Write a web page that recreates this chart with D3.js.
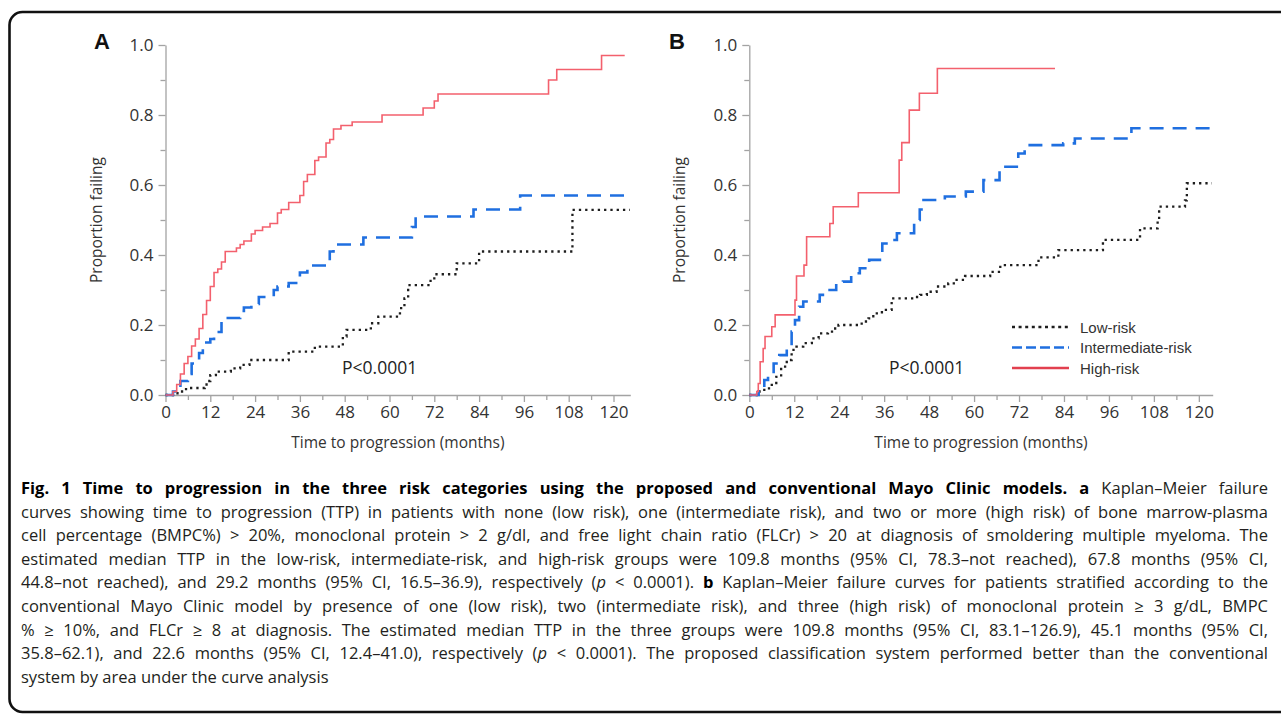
<!DOCTYPE html>
<html>
<head>
<meta charset="utf-8">
<script src="https://cdn.jsdelivr.net/npm/d3@7"></script>
<style>
  body { margin: 0; background: #fff; }
  svg { display: block; }
  .axis .domain, .axis line { stroke: #a3a3a3; stroke-width: 1.3; }
  .axis text { fill: #333; font-family: "Open Sans", sans-serif; font-size: 17px; }
</style>
</head>
<body>
<svg id="fig" width="1281" height="717"></svg>
<script>
const width = 1281, height = 717;

// tick values
const monthTicks = [0, 12, 24, 36, 48, 60, 72, 84, 96, 108, 120];
const monthMinor = [6, 18, 30, 42, 54, 66, 78, 90, 102, 114];
const propTicks = [0, 0.2, 0.4, 0.6, 0.8, 1.0];
const propMinor = [0.1, 0.3, 0.5, 0.7, 0.9];
const groups = ["Low-risk", "Intermediate-risk", "High-risk"];

// panel A : [month, proportion failing] step points
const aLow = [[0,0],[2,0.005],[4,0.01],[5.5,0.02],[10.5,0.03],[11,0.04],[12,0.057],[13.5,0.067],[17.5,0.076],[20,0.086],
  [22.5,0.1],[33,0.124],[40,0.138],[47.5,0.167],[48.5,0.186],[55,0.205],[57,0.224],[62.8,0.248],[64,0.276],[65,0.314],
  [71,0.33],[72,0.345],[78,0.376],[84,0.41],[109,0.529],[124.4,0.529]];
const aMid = [[0,0],[2,0.01],[3,0.02],[4,0.04],[6,0.06],[7,0.09],[9,0.12],[10,0.15],[12,0.16],[13,0.18],[15,0.21],
  [16,0.22],[20,0.24],[21,0.25],[23,0.26],[25,0.28],[29,0.3],[30,0.31],[33,0.32],[35,0.33],[36,0.35],[38,0.37],
  [44,0.41],[45,0.43],[53,0.45],[66,0.48],[67,0.51],[82.5,0.53],[95,0.57],[124,0.57]];
const aHigh = [[0,0],[2,0.01],[3,0.03],[4,0.06],[5,0.09],[6,0.11],[7,0.14],[8,0.16],[9,0.19],[10,0.23],[11,0.27],
  [12,0.31],[13,0.35],[14,0.36],[15,0.38],[16,0.41],[19,0.42],[20,0.43],[21,0.44],[23,0.46],[24,0.47],[26,0.48],
  [28,0.49],[30,0.52],[31,0.53],[33,0.55],[36,0.57],[37,0.61],[38,0.63],[40,0.67],[41,0.68],[43,0.72],[44,0.73],
  [45,0.76],[47,0.77],[50,0.78],[58,0.8],[69,0.82],[72,0.84],[73,0.86],[102.6,0.9],[104.8,0.93],[116.8,0.97],[123,0.97]];

// panel B
const bLow = [[0,0],[2.5,0.01],[4,0.019],[6,0.029],[7.2,0.052],[8.5,0.081],[10,0.1],[11.3,0.129],[12.6,0.138],
  [14.4,0.148],[16.7,0.162],[18.5,0.176],[21,0.181],[22.4,0.19],[23.8,0.2],[30,0.21],[31.8,0.219],[33.1,0.233],
  [35.4,0.243],[38,0.276],[44,0.28],[45.6,0.286],[47.4,0.295],[50,0.31],[53.1,0.319],[55,0.329],[57.6,0.34],
  [64.3,0.352],[67,0.371],[77.2,0.393],[82.5,0.414],[94.4,0.443],[104.3,0.476],[109,0.5],[109.4,0.538],
  [116.3,0.556],[116.8,0.605],[123.5,0.605]];
const bMid = [[0,0],[2.5,0.01],[4,0.043],[5,0.057],[6.5,0.09],[8,0.114],[10,0.138],[11.3,0.181],[12.2,0.214],
  [13.3,0.252],[14.4,0.267],[18.8,0.286],[20.7,0.3],[23.2,0.319],[25,0.324],[27.2,0.348],[29.5,0.362],[32,0.386],
  [35.5,0.433],[37.5,0.443],[39.4,0.462],[44,0.5],[45.5,0.53],[46.5,0.557],[52.2,0.567],[57.8,0.581],[62.5,0.614],
  [66.8,0.652],[71.8,0.69],[73.5,0.714],[83.8,0.719],[86.9,0.733],[102,0.762],[123.5,0.762]];
const bHigh = [[0,0],[2,0.01],[2.4,0.033],[2.9,0.095],[3.7,0.133],[4.2,0.167],[6,0.195],[6.9,0.229],[12.2,0.271],
  [12.6,0.34],[14.6,0.371],[15.3,0.452],[21.5,0.49],[22.4,0.538],[29.1,0.578],[40,0.671],[40.7,0.721],[42.7,0.814],
  [45.4,0.862],[50.2,0.933],[81.6,0.933]];

// caption, one entry per printed line (** bold **, _italic_)
const captionLines = [
  "**Fig. 1 Time to progression in the three risk categories using the proposed and conventional Mayo Clinic models. a** Kaplan–Meier failure",
  "curves showing time to progression (TTP) in patients with none (low risk), one (intermediate risk), and two or more (high risk) of bone marrow-plasma",
  "cell percentage (BMPC%) > 20%, monoclonal protein > 2 g/dl, and free light chain ratio (FLCr) > 20 at diagnosis of smoldering multiple myeloma. The",
  "estimated median TTP in the low-risk, intermediate-risk, and high-risk groups were 109.8 months (95% CI, 78.3–not reached), 67.8 months (95% CI,",
  "44.8–not reached), and 29.2 months (95% CI, 16.5–36.9), respectively (_p_ < 0.0001). **b** Kaplan–Meier failure curves for patients stratified according to the",
  "conventional Mayo Clinic model by presence of one (low risk), two (intermediate risk), and three (high risk) of monoclonal protein ≥ 3 g/dL, BMPC",
  "% ≥ 10%, and FLCr ≥ 8 at diagnosis. The estimated median TTP in the three groups were 109.8 months (95% CI, 83.1–126.9), 45.1 months (95% CI,",
  "35.8–62.1), and 22.6 months (95% CI, 12.4–41.0), respectively (_p_ < 0.0001). The proposed classification system performed better than the conventional",
  "system by area under the curve analysis"
];

const svg = d3.select("#fig");
svg.append("rect").attr("width", width).attr("height", height).attr("fill", "#fff");

// outer rounded frame (runs off the right edge)
svg.append("rect").attr("x", 9.5).attr("y", 12).attr("width", 1300).attr("height", 700)
  .attr("rx", 13).attr("fill", "none").attr("stroke", "#111").attr("stroke-width", 2.6);

const styles = [
  { color: "#1e1e1e", w: 2.3, dash: "2.3,4", legendDash: "3,3.6", legendW: 2.3 },
  { color: "#1f6fe0", w: 2.6, dash: "14,9", legendDash: "10,4", legendW: 2.6 },
  { color: "#f3606d", w: 1.6, dash: null, legendDash: null, legendW: 2.6, legendColor: "#e2404f" }
];

const y = d3.scaleLinear().domain([0, 1]).range([395, 45]);

function drawPanel(p) {
  const x = d3.scaleLinear().domain([0, p.maxMonth]).range([p.x0, p.x1]);
  const g = svg.append("g");

  // minor ticks first
  g.append("g").attr("class", "axis").attr("transform", `translate(${p.x0},0)`)
    .call(d3.axisLeft(y).tickValues(propMinor).tickSize(5).tickFormat(""))
    .select(".domain").remove();
  g.append("g").attr("class", "axis").attr("transform", `translate(0,395)`)
    .call(d3.axisBottom(x).tickValues(monthMinor).tickSize(5).tickFormat(""))
    .select(".domain").remove();

  g.append("g").attr("class", "axis").attr("transform", `translate(${p.x0},0)`)
    .call(d3.axisLeft(y).tickValues(propTicks).tickSize(7).tickSizeOuter(0).tickPadding(5).tickFormat(d3.format(".1f")));
  g.append("g").attr("class", "axis").attr("transform", `translate(0,395)`)
    .call(d3.axisBottom(x).tickValues(monthTicks).tickSize(7).tickSizeOuter(0).tickPadding(4));

  const line = d3.line().curve(d3.curveStepAfter).x(d => x(d[0])).y(d => y(d[1]));
  p.series.forEach((s, i) => {
    const st = styles[i];
    g.append("path").datum(s).attr("d", line).attr("fill", "none")
      .attr("stroke", st.color).attr("stroke-width", st.w)
      .attr("stroke-dasharray", st.dash);
  });

  g.append("text").attr("x", p.labelX).attr("y", 49).text(p.label)
    .attr("font-family", "Liberation Sans, Arial, sans-serif").attr("font-weight", "bold")
    .attr("font-size", 22).attr("text-anchor", "middle").attr("fill", "#111");

  g.append("text").attr("transform", `translate(${p.ylabelX},220) rotate(-90)`)
    .attr("text-anchor", "middle").attr("font-family", "Open Sans, sans-serif")
    .attr("font-size", 15.5).attr("fill", "#333").text("Proportion failing");

  g.append("text").attr("x", (p.x0 + p.x1) / 2).attr("y", 448).attr("text-anchor", "middle")
    .attr("font-family", "Open Sans, sans-serif").attr("font-size", 15.5).attr("fill", "#333")
    .text("Time to progression (months)");

  g.append("text").attr("x", p.pX).attr("y", 374).attr("font-family", "Open Sans, sans-serif")
    .attr("font-size", 17.5).attr("fill", "#222").text("P<0.0001");

  return x;
}

drawPanel({ x0: 165.5, x1: 630.3, maxMonth: 124.5, label: "A", labelX: 102, ylabelX: 102,
  series: [aLow, aMid, aHigh], pX: 342 });
drawPanel({ x0: 749.3, x1: 1212.7, maxMonth: 123.7, label: "B", labelX: 677, ylabelX: 685,
  series: [bLow, bMid, bHigh], pX: 889 });

// legend in panel B
const legend = svg.append("g").attr("transform", "translate(1012,327)");
groups.forEach((name, i) => {
  const st = styles[i];
  const row = legend.append("g").attr("transform", `translate(0,${i * 20.5})`);
  row.append("line").attr("x1", 0).attr("x2", 57).attr("y1", 0).attr("y2", 0)
    .attr("stroke", st.legendColor || st.color).attr("stroke-width", st.legendW)
    .attr("stroke-dasharray", st.legendDash);
  row.append("text").attr("x", 68).attr("y", 5.5).text(name)
    .attr("font-family", "Liberation Sans, Arial, sans-serif").attr("font-size", 15).attr("fill", "#333");
});

// caption, justified line by line
const capLeft = 21, capRight = 1268, capTop = 494, capStep = 23.6;
captionLines.forEach((ln, i) => {
  const t = svg.append("text").attr("x", capLeft).attr("y", capTop + i * capStep)
    .attr("font-family", "Open Sans, sans-serif").attr("font-size", 16.5).attr("fill", "#231f20");
  ln.split(/(\*\*[^*]+\*\*|_[^_]+_)/).filter(s => s.length).forEach(seg => {
    const ts = t.append("tspan");
    if (seg.startsWith("**")) ts.attr("font-weight", "bold").attr("fill", "#000").text(seg.slice(2, -2));
    else if (seg.startsWith("_")) ts.attr("font-style", "italic").text(seg.slice(1, -1));
    else ts.text(seg);
  });
  if (i < captionLines.length - 1) {
    const target = capRight - capLeft;
    const natural = t.node().getComputedTextLength();
    const spaces = (ln.match(/ /g) || []).length;
    if (natural <= target) t.attr("word-spacing", (target - natural) / spaces);
    else t.attr("textLength", target).attr("lengthAdjust", "spacingAndGlyphs");
  }
});
</script>
</body>
</html>
